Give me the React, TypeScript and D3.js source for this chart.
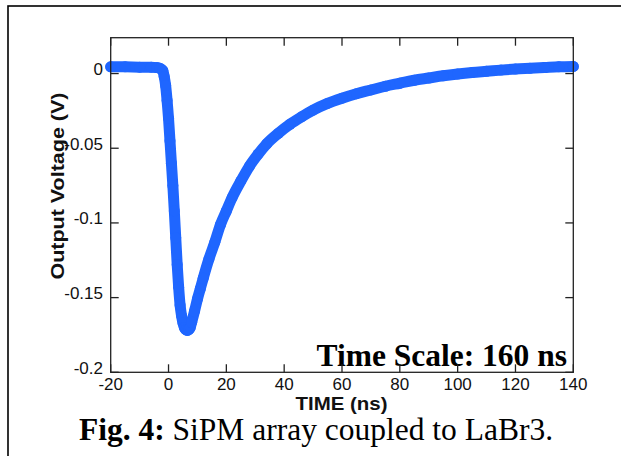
import React from 'react';
import * as d3 from 'd3';

// Time axis (ns) and output voltage (V)
const timeNs = [
  -20, -15, -10, -6, -4, -3, -2, -1.5, -1, -0.5, 0, 0.5, 1, 1.5, 2, 2.5, 3, 3.5, 4, 4.5,
  5, 5.5, 6, 6.5, 7, 7.5, 8, 9, 10, 11, 12, 14, 16, 18, 20, 22, 25, 28, 31, 34, 38, 42,
  46, 50, 55, 60, 65, 70, 75, 80, 85, 90, 95, 100, 105, 110, 115, 120, 125, 130, 135, 140,
];
const voltage = [
  0.0045, 0.0045, 0.0043, 0.0043, 0.004, 0.0035, 0.002, -0.002, -0.008, -0.018, -0.03,
  -0.045, -0.06, -0.075, -0.092, -0.11, -0.128, -0.143, -0.155, -0.162, -0.167, -0.17,
  -0.1715, -0.172, -0.1715, -0.17, -0.1665, -0.159, -0.151, -0.144, -0.137, -0.124,
  -0.113, -0.101, -0.092, -0.083, -0.072, -0.062, -0.054, -0.047, -0.04, -0.034, -0.029,
  -0.0245, -0.02, -0.0165, -0.0135, -0.011, -0.0085, -0.0065, -0.0045, -0.003, -0.0015,
  -0.0003, 0.0007, 0.0015, 0.0023, 0.003, 0.0035, 0.004, 0.0045, 0.0048,
];

const xTicks = [-20, 0, 20, 40, 60, 80, 100, 120, 140];
const xTickLabels = ['-20', '0', '20', '40', '60', '80', '100', '120', '140'];
const yTicks = [0, -0.05, -0.1, -0.15, -0.2];
const yTickLabels = ['0', '-0.05', '-0.1', '-0.15', '-0.2'];

const xLabel = 'TIME (ns)';
const yLabel = 'Output Voltage (V)';
const noteText = 'Time Scale: 160 ns';
const captionBold = 'Fig. 4:';
const captionRest = ' SiPM array coupled to LaBr3.';

const SANS = "'Liberation Sans', Arial, sans-serif";
const SERIF = "'Liberation Serif', 'Times New Roman', serif";
const BLUE = '#1f66ff';

export default function App() {
  const W = 621;
  const H = 456;
  const left = 110.7;
  const right = 573.3;
  const top = 37.7;
  const bottom = 372.3;
  const tick = 8;

  const x = d3.scaleLinear().domain([-20, 140]).range([left, right]);
  const y = d3.scaleLinear().domain([-0.2, 0.024]).range([bottom, top]);

  const pts = timeNs.map((t, i) => [t, voltage[i]] as [number, number]);
  const line = d3
    .line<[number, number]>()
    .x((d) => x(d[0]))
    .y((d) => y(d[1]))
    .curve(d3.curveMonotoneX);

  return (
    <svg
      width={W}
      height={H}
      style={{ position: 'absolute', left: 0, top: 0, background: '#fff' }}
    >
      <rect x={0} y={0} width={W} height={H} fill="#fff" />
      {/* outer frame */}
      <rect x={8} y={6} width={700} height={500} fill="none" stroke="#000" strokeWidth={1.6} />

      {/* annotation (under axes) */}
      <text
        x={567}
        y={366}
        textAnchor="end"
        fontFamily={SERIF}
        fontWeight="bold"
        fontSize={31.5}
        fill="#000"
      >
        {noteText}
      </text>

      {/* data */}
      <path
        d={line(pts) || ''}
        fill="none"
        stroke={BLUE}
        strokeWidth={11}
        strokeLinejoin="round"
        strokeLinecap="round"
      />
      {pts.map((d, i) => (
        <circle key={i} cx={x(d[0])} cy={y(d[1])} r={5.5} fill={BLUE} />
      ))}

      {/* axes box */}
      <rect
        x={left}
        y={top}
        width={right - left}
        height={bottom - top}
        fill="none"
        stroke="#222"
        strokeWidth={1.3}
      />
      {xTicks.map((t, i) => (
        <g key={'xt' + i}>
          <line x1={x(t)} x2={x(t)} y1={bottom} y2={bottom - tick} stroke="#222" strokeWidth={1.3} />
          <line x1={x(t)} x2={x(t)} y1={top} y2={top + tick} stroke="#222" strokeWidth={1.3} />
          <text
            x={x(t)}
            y={390}
            textAnchor="middle"
            fontFamily={SANS}
            fontSize={17}
            fill="#111"
          >
            {xTickLabels[i]}
          </text>
        </g>
      ))}
      {yTicks.map((v, i) => (
        <g key={'yt' + i}>
          <line x1={left} x2={left + tick} y1={y(v)} y2={y(v)} stroke="#222" strokeWidth={1.3} />
          <line x1={right} x2={right - tick} y1={y(v)} y2={y(v)} stroke="#222" strokeWidth={1.3} />
          <text
            x={103}
            y={y(v) - 4}
            textAnchor="end"
            dominantBaseline="central"
            fontFamily={SANS}
            fontSize={17}
            fill="#111"
          >
            {yTickLabels[i]}
          </text>
        </g>
      ))}

      {/* axis labels */}
      <text
        x={341.5}
        y={409.5}
        textAnchor="middle"
        fontFamily={SANS}
        fontWeight="bold"
        fontSize={18.5}
        textLength={92}
        lengthAdjust="spacingAndGlyphs"
        fill="#111"
      >
        {xLabel}
      </text>
      <text
        transform={`translate(63.5,186) rotate(-90)`}
        textAnchor="middle"
        fontFamily={SANS}
        fontWeight="bold"
        fontSize={18.5}
        textLength={187}
        lengthAdjust="spacingAndGlyphs"
        fill="#111"
      >
        {yLabel}
      </text>

      {/* caption */}
      <text x={316} y={440} textAnchor="middle" fontFamily={SERIF} fontSize={31.5} fill="#000">
        <tspan fontWeight="bold">{captionBold}</tspan>
        <tspan>{captionRest}</tspan>
      </text>
    </svg>
  );
}
